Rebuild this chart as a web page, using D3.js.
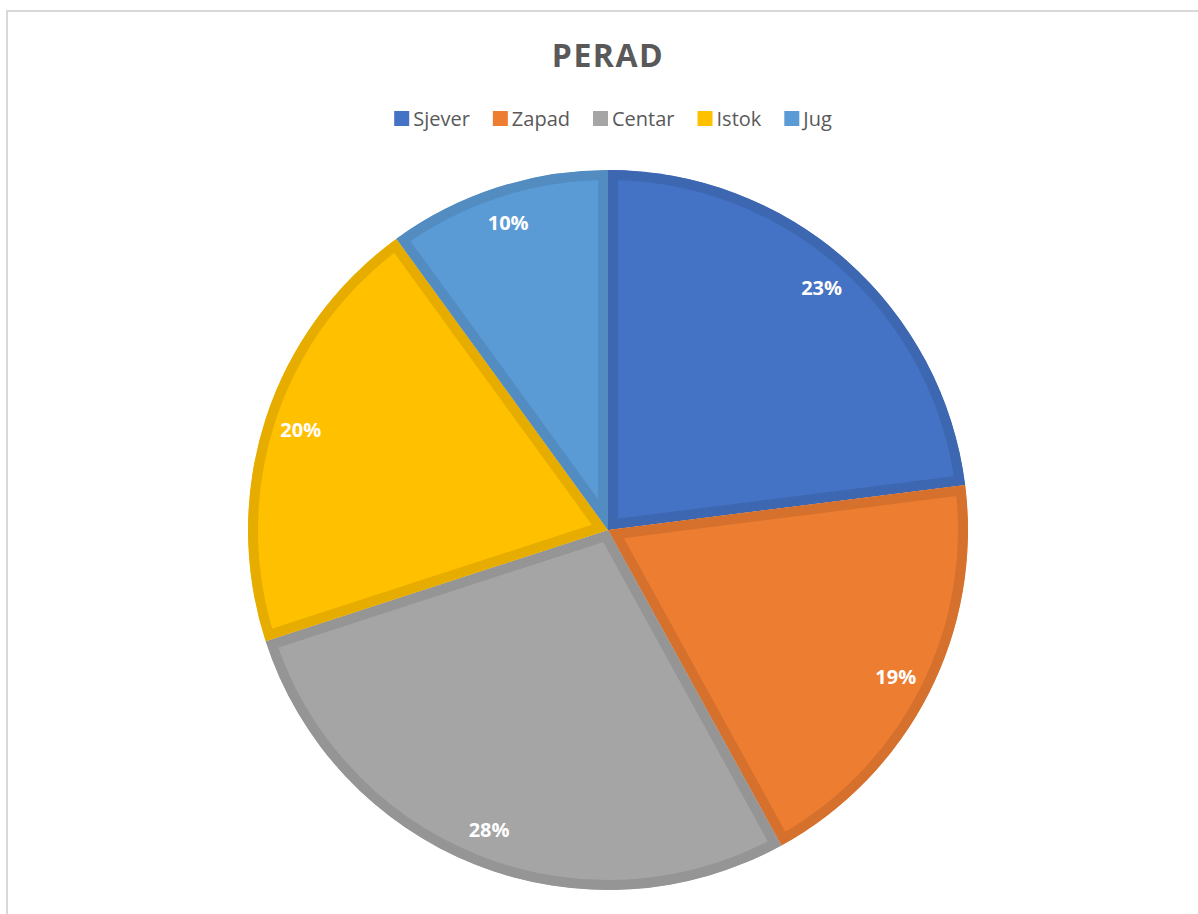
<!DOCTYPE html>
<html>
<head>
<meta charset="utf-8">
<title>PERAD</title>
<script src="https://cdn.jsdelivr.net/npm/d3@7"></script>
<style>
  body { margin: 0; background: #fff; }
  svg { display: block; font-family: "Open Sans", "DejaVu Sans", sans-serif; }
</style>
</head>
<body>
<div id="chart"></div>
<script>
// data
var categories = ["Sjever", "Zapad", "Centar", "Istok", "Jug"];
var shares = [23, 19, 28, 20, 10];
var colors = ["#4472C4", "#ED7D31", "#A5A5A5", "#FFC000", "#5B9BD5"];
var title = "PERAD";

const width = 1198, height = 914;
const cx = 608, cy = 530, radius = 360;

var svg = d3.select("#chart").append("svg")
  .attr("width", width)
  .attr("height", height);

// chart area frame
svg.append("rect")
  .attr("x", 7).attr("y", 11)
  .attr("width", width + 20).attr("height", height + 20)
  .attr("fill", "#fff")
  .attr("stroke", "#d9d9d9")
  .attr("stroke-width", 2);

// title
svg.append("text")
  .attr("x", cx).attr("y", 67)
  .attr("text-anchor", "middle")
  .attr("font-size", 32)
  .attr("font-weight", "bold")
  .attr("letter-spacing", 1.5)
  .attr("fill", "#595959")
  .text(title);

// legend
var legend = svg.append("g").attr("class", "legend");
var gap = 23;
var x = 0;
categories.forEach(function(name, i) {
  var item = legend.append("g").attr("transform", "translate(" + x + ",0)");
  item.append("rect")
    .attr("x", 0).attr("y", -8)
    .attr("width", 15).attr("height", 15)
    .attr("fill", colors[i]);
  var t = item.append("text")
    .attr("x", 19).attr("y", 7)
    .attr("font-size", 20)
    .attr("fill", "#595959")
    .text(name);
  x += 19 + t.node().getComputedTextLength() + gap;
});
x -= gap;
legend.attr("transform", "translate(" + (613 - x / 2) + ",119)");

// pie
var pie = d3.pie().sort(null).value(function(d) { return d; });
var arcs = pie(shares);
var arc = d3.arc().innerRadius(0).outerRadius(radius);
var labelArc = d3.arc().innerRadius(323).outerRadius(323);

var g = svg.append("g").attr("transform", "translate(" + cx + "," + cy + ")");
var defs = svg.append("defs");

arcs.forEach(function(d, i) {
  defs.append("clipPath").attr("id", "clip" + i)
    .append("path").attr("d", arc(d));
});

g.selectAll("path.slice")
  .data(arcs)
  .join("path")
  .attr("class", "slice")
  .attr("d", arc)
  .attr("fill", function(d, i) { return colors[i]; })
  .attr("stroke", function(d, i) {
    var c = d3.rgb(colors[i]);
    return d3.rgb(c.r * 0.9, c.g * 0.9, c.b * 0.9).formatHex();
  })
  .attr("stroke-width", 20)
  .attr("stroke-linejoin", "miter")
  .attr("clip-path", function(d, i) { return "url(#clip" + i + ")"; });

g.selectAll("text.label")
  .data(arcs)
  .join("text")
  .attr("class", "label")
  .attr("transform", function(d) { return "translate(" + labelArc.centroid(d) + ")"; })
  .attr("text-anchor", "middle")
  .attr("dy", "0.35em")
  .attr("font-size", 20)
  .attr("font-weight", "bold")
  .attr("fill", "#fff")
  .text(function(d) { return d.data + "%"; });
</script>
</body>
</html>
